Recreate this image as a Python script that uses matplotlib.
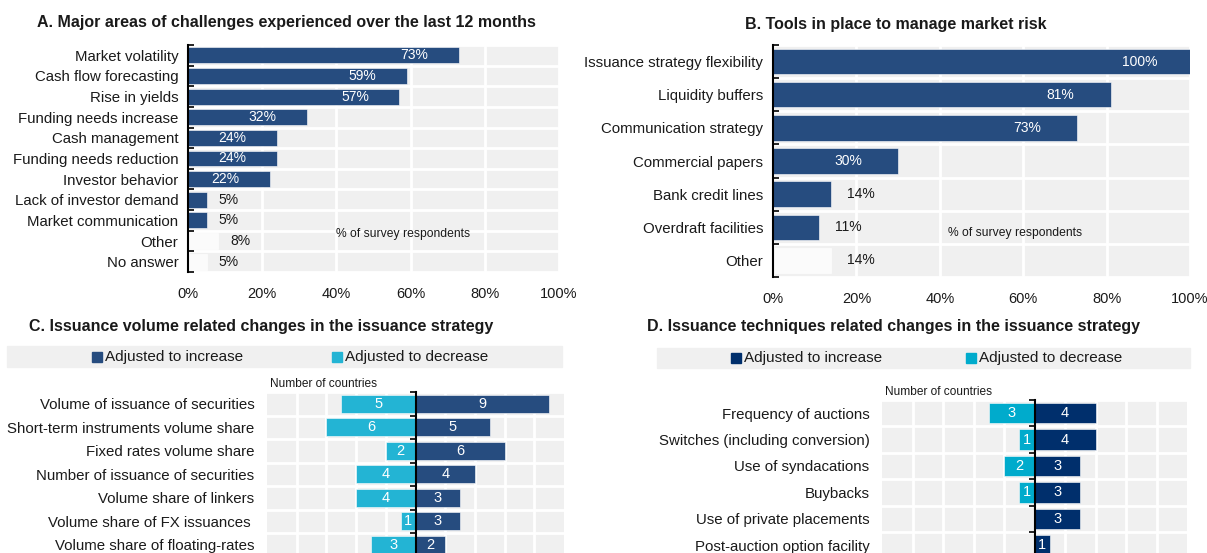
import matplotlib
matplotlib.use("Agg")
import matplotlib.pyplot as plt
import numpy as np
from matplotlib import font_manager
from matplotlib.patches import Rectangle

# --- data ---
challenges = ["Market volatility", "Cash flow forecasting", "Rise in yields",
              "Funding needs increase", "Cash management", "Funding needs reduction",
              "Investor behavior", "Lack of investor demand", "Market communication",
              "Other", "No answer"]
challenges_pct = [73, 59, 57, 32, 24, 24, 22, 5, 5, 8, 5]

tools = ["Issuance strategy flexibility", "Liquidity buffers", "Communication strategy",
         "Commercial papers", "Bank credit lines", "Overdraft facilities", "Other"]
tools_pct = [100, 81, 73, 30, 14, 11, 14]

volume_items = ["Volume of issuance of securities", "Short-term instruments volume share",
                "Fixed rates volume share", "Number of issuance of securities",
                "Volume share of linkers", "Volume share of FX issuances ",
                "Volume share of floating-rates"]
volume_increase = [9, 5, 6, 4, 3, 3, 2]
volume_decrease = [5, 6, 2, 4, 4, 1, 3]

technique_items = ["Frequency of auctions", "Switches (including conversion)",
                   "Use of syndacations", "Buybacks", "Use of private placements",
                   "Post-auction option facility"]
technique_increase = [4, 4, 3, 3, 3, 1]
technique_decrease = [3, 1, 2, 1, 0, 0]

pct_ticks = [0, 20, 40, 60, 80, 100]
pct_labels = ["0%", "20%", "40%", "60%", "80%", "100%"]
legend_labels = ["Adjusted to increase", "Adjusted to decrease"]

# --- style ---
names = {f.name for f in font_manager.fontManager.ttflist}
font = "Liberation Sans Narrow" if "Liberation Sans Narrow" in names else "Liberation Sans"
plt.rcParams["font.family"] = [font, "DejaVu Sans"]

NAVY = "#264c7f"
NAVY_D = "#002f6c"
CYAN = "#23b4d4"
CYAN_D = "#00abcc"
PALE = "#fbfbfb"
BG = "#f0f0f0"
TXT = "#1a1a1a"

W, H = 1207, 553
fig = plt.figure(figsize=(W / 100, H / 100), dpi=100)


def fx(px):
    return px / W


def fy(py):
    return 1 - py / H


def base_axes(left, right, top, bottom):
    ax = fig.add_axes([fx(left), fy(bottom), fx(right - left), fy(top) - fy(bottom)])
    ax.set_facecolor(BG)
    ax.set_axisbelow(True)
    for s in ["top", "right", "bottom", "left"]:
        ax.spines[s].set_visible(False)
    return ax


def pct_panel(ax, cats, vals, in_off, out_off, note_y):
    y = np.arange(len(cats))
    cols = [PALE if c in ("Other", "No answer") else NAVY for c in cats]
    ax.barh(y, vals, height=0.77, color=cols, edgecolor="white", linewidth=0.4)
    for yi, v, c in zip(y, vals, cols):
        if v >= 20 and c == NAVY:
            ax.text(v - in_off, yi, f"{v}%", ha="center", va="center",
                    color="white", fontsize=10)
        else:
            ax.text(v + out_off, yi, f"{v}%", ha="center", va="center",
                    color=TXT, fontsize=10)
    ax.set_xlim(0, 100)
    ax.set_ylim(len(cats) - 0.5, -0.5)
    ax.set_xticks(pct_ticks)
    ax.set_xticklabels(pct_labels, fontsize=10.5, color=TXT)
    ax.set_yticks(y)
    ax.set_yticklabels(cats, fontsize=10.8, color=TXT)
    ax.set_yticks(np.arange(len(cats) + 1) - 0.5, minor=True)
    ax.tick_params(axis="x", length=0, pad=11)
    ax.tick_params(axis="y", which="major", length=0, pad=7)
    ax.tick_params(axis="y", which="minor", direction="in", length=4, width=1.2, color="black")
    ax.spines["left"].set_visible(True)
    ax.spines["left"].set_linewidth(1.5)
    ax.grid(axis="x", which="major", color="white", linewidth=2)
    ax.grid(axis="y", which="minor", color="white", linewidth=2)
    ax.text(0.58, note_y, "% of survey respondents", transform=ax.transAxes,
            ha="center", va="center", fontsize=8.7, color=TXT)


def diverging_panel(ax, cats, inc, dec, c_inc, c_dec):
    # spine moved first: set_position resets the ticks
    ax.spines["right"].set_visible(True)
    ax.spines["right"].set_position(("data", 0))
    ax.spines["right"].set_linewidth(1.5)
    y = np.arange(len(cats))
    ax.barh(y, inc, height=0.77, color=c_inc, edgecolor="white", linewidth=0.4)
    ax.barh(y, [-d for d in dec], height=0.77, color=c_dec, edgecolor="white", linewidth=0.4)
    for yi, a, b in zip(y, inc, dec):
        if a:
            ax.text(a / 2, yi, str(a), ha="center", va="center", color="white", fontsize=10.5)
        if b:
            ax.text(-b / 2, yi, str(b), ha="center", va="center", color="white", fontsize=10.5)
    ax.set_xlim(-10, 10)
    ax.set_ylim(len(cats) - 0.5, -0.5)
    ax.set_xticks(np.arange(-8, 9, 2))
    ax.set_xticklabels([])
    ax.tick_params(axis="x", length=0)
    ax.set_yticks(y)
    ax.set_yticks(np.arange(len(cats) + 1) - 0.5, minor=True)
    ax.set_yticklabels(cats)
    ax.tick_params(axis="y", which="major", length=0, pad=9, labelsize=10.8, labelcolor=TXT)
    ax.tick_params(axis="y", which="minor", left=False, right=True,
                   direction="in", length=4, width=1.2, color="black")
    ax.grid(axis="x", which="major", color="white", linewidth=2)
    ax.grid(axis="y", which="minor", color="white", linewidth=2)
    ax.text(0.01, 1.015, "Number of countries", transform=ax.transAxes,
            ha="left", va="bottom", fontsize=8.6, color=TXT)


def legend_band(left, right, top, bottom, sq1, sq2, c1, c2):
    fig.patches.append(Rectangle((fx(left), fy(bottom)), fx(right - left), fy(top) - fy(bottom),
                                 transform=fig.transFigure, color=BG, zorder=0))
    yc = (top + bottom) / 2
    for x0, col, lab in [(sq1, c1, legend_labels[0]), (sq2, c2, legend_labels[1])]:
        fig.patches.append(Rectangle((fx(x0), fy(yc + 5)), fx(10), fy(yc - 5) - fy(yc + 5),
                                     transform=fig.transFigure, color=col, zorder=1))
        fig.text(fx(x0 + 13), fy(yc), lab, ha="left", va="center", fontsize=11, color=TXT)


TITLE = dict(ha="center", va="center", fontsize=11.5, fontweight="bold", color=TXT)

# A
axA = base_axes(188, 559, 45, 272)
pct_panel(axA, challenges, challenges_pct, 12, 6, 0.167)
fig.text(fx(286), fy(22), "A. Major areas of challenges experienced over the last 12 months", **TITLE)

# B
axB = base_axes(773, 1190, 45, 277)
pct_panel(axB, tools, tools_pct, 12, 7, 0.19)
fig.text(fx(896), fy(24), "B. Tools in place to manage market risk", **TITLE)

# C
axC = base_axes(267, 564, 392, 392 + 7 * 23.5)
diverging_panel(axC, volume_items, volume_increase, volume_decrease, NAVY, CYAN)
fig.text(fx(261), fy(327), "C. Issuance volume related changes in the issuance strategy", **TITLE)
legend_band(7, 562, 346, 367, 92, 332, NAVY, CYAN)

# D
axD = base_axes(882, 1187, 400, 400 + 6 * 26.4)
diverging_panel(axD, technique_items, technique_increase, technique_decrease, NAVY_D, CYAN_D)
fig.text(fx(894), fy(327), "D. Issuance techniques related changes in the issuance strategy", **TITLE)
legend_band(657, 1190, 348, 368, 731, 966, NAVY_D, CYAN_D)

fig.savefig("out.png", dpi=100)
